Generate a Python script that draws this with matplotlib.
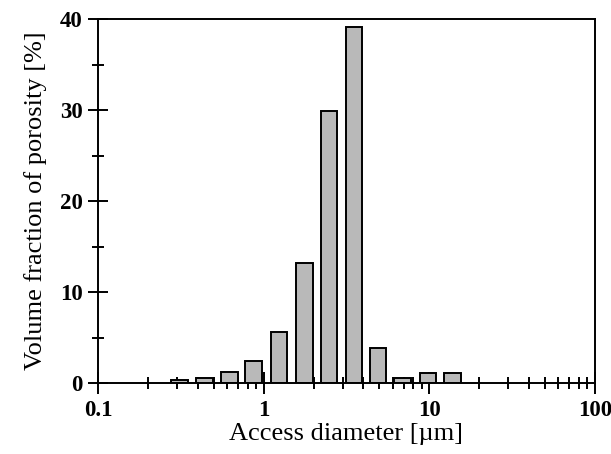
import numpy as np
import matplotlib
matplotlib.use("Agg")
import matplotlib.pyplot as plt
from matplotlib.ticker import LogLocator, FixedLocator, NullFormatter

plt.rcParams['font.family'] = ['Liberation Serif', 'DejaVu Serif']

# bar centres (access diameter, um) and volume fraction of porosity (%)
diameter = [0.31, 0.44, 0.62, 0.87, 1.24, 1.76, 2.48, 3.5, 4.9, 6.9, 9.8, 13.8]
volume = [0.3, 0.5, 1.2, 2.4, 5.6, 13.2, 29.9, 39.1, 3.8, 0.6, 1.1, 1.1]

xticks = [0.1, 1, 10, 100]
xtick_labels = ['0.1', '1', '10', '100']
yticks = [0, 10, 20, 30, 40]

d = np.array(diameter)
half = 10 ** 0.05
left = d / half
width = d * half - left

fig = plt.figure(figsize=(6.11, 4.54), dpi=100)
ax = fig.add_axes([0.1604, 0.1564, 0.8134, 0.8016])

ax.bar(left, volume, width=width, align='edge', color='#b9b9b9',
       edgecolor='black', linewidth=1.4, zorder=2)

ax.set_xscale('log')
ax.set_xlim(0.1, 100)
ax.set_ylim(0, 40)

ax.xaxis.set_major_locator(FixedLocator(xticks))
ax.set_xticklabels(xtick_labels)
ax.xaxis.set_minor_locator(LogLocator(base=10, subs=np.arange(2, 10)))
ax.xaxis.set_minor_formatter(NullFormatter())
ax.set_yticks(yticks)
ax.yaxis.set_minor_locator(FixedLocator([5, 15, 25, 35]))

ax.tick_params(which='major', direction='inout', length=16, width=1.4,
               labelsize=16.5, pad=4)
ax.tick_params(which='minor', direction='inout', length=8, width=1.4)
ax.tick_params(axis='y', which='major', length=14)
for lab in ax.get_xticklabels() + ax.get_yticklabels():
    lab.set_fontweight('bold')
for s in ax.spines.values():
    s.set_linewidth(1.4)

ax.set_xlabel('Access diameter [µm]', fontsize=19, labelpad=2)
ax.set_ylabel('Volume fraction of porosity [%]', fontsize=19, labelpad=9)

fig.savefig('out.png', dpi=100)
